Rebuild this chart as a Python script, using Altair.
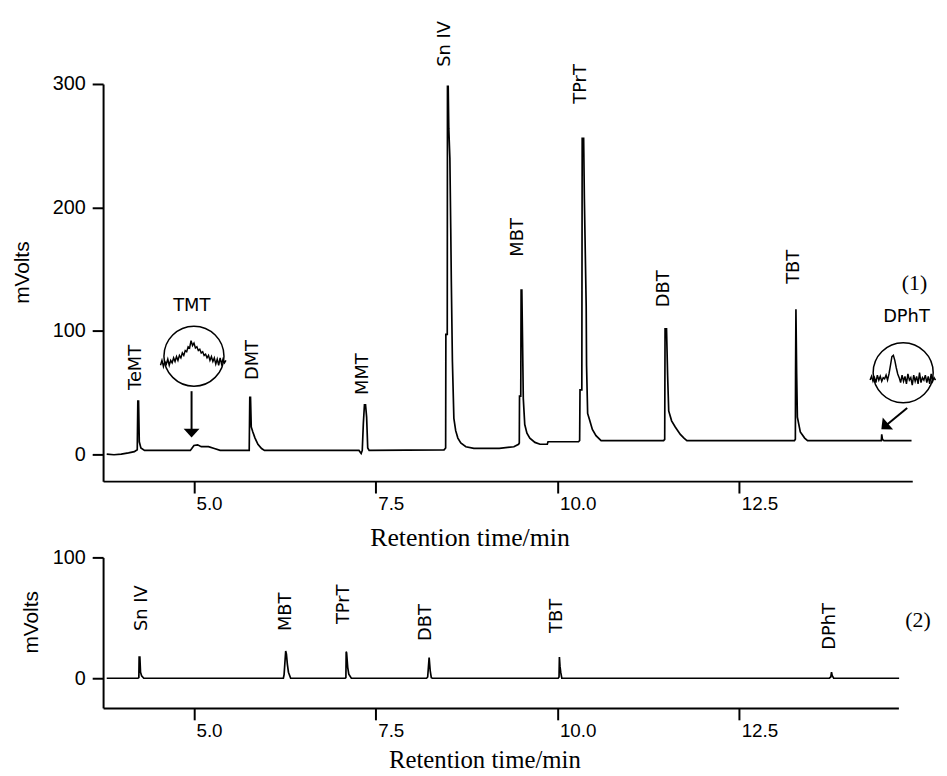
import altair as alt
import pandas as pd

# ---------------- Chromatogram (1): retention time (min) / signal (mV)
top_t = [3.80, 3.90, 4.00, 4.10, 4.18, 4.22, 4.228, 4.238, 4.248, 4.27, 4.32,
         4.95, 4.97, 5.00, 5.05, 5.10, 5.20, 5.28, 5.36,
         5.76, 5.768, 5.778, 5.788, 5.81, 5.84, 5.88, 5.93, 5.97,
         7.27, 7.30, 7.315, 7.33, 7.345, 7.36, 7.375, 7.39, 7.41,
         8.44, 8.462, 8.465, 8.484, 8.487, 8.497, 8.505, 8.52, 8.532, 8.54, 8.555,
         8.575, 8.60, 8.63, 8.67, 8.74, 8.85, 9.20, 9.40,
         9.465, 9.475, 9.478, 9.495, 9.50, 9.51, 9.52, 9.53, 9.55, 9.58, 9.62,
         9.69, 9.76, 9.86, 9.87,
         10.29, 10.305, 10.31, 10.335, 10.34, 10.36, 10.37, 10.395, 10.40, 10.415,
         10.44, 10.48, 10.53, 10.60,
         11.46, 11.475, 11.48, 11.50, 11.515, 11.53, 11.57, 11.62, 11.69, 11.74, 11.78,
         13.26, 13.272, 13.275, 13.28, 13.29, 13.30, 13.34, 13.40, 13.44,
         14.44, 14.455, 14.46, 14.47, 14.49, 14.87]
top_v = [0, -0.5, 0, 1, 2, 3.5, 43, 43, 10, 5, 3,
         3, 4.5, 7, 7.5, 6, 6, 4.5, 3,
         3, 46, 46, 22, 18, 13, 8, 4.5, 3,
         3, 0.5, 3, 25, 40, 40, 30, 5, 3,
         3.5, 5, 97, 97, 298, 298, 264, 240, 183, 140, 75,
         29, 19, 13, 9, 6, 4.6, 4.6, 6,
         8, 9, 47, 47, 133, 133, 90, 45, 24, 17, 13,
         9.5, 8, 8, 10,
         10, 11, 52, 52, 256, 256, 207, 120, 72, 33,
         28, 20, 15, 11,
         11, 12, 101.5, 101.5, 64, 35, 27, 22, 16, 13, 11,
         11, 12, 65, 117.5, 65, 30, 18, 13, 11,
         11, 11, 16, 12, 11, 11]

# magnified insets (TMT and DPhT)
tmt_t = [4.54, 4.56, 4.58, 4.60, 4.62, 4.64, 4.66, 4.68, 4.70, 4.72, 4.74, 4.76,
         4.78, 4.80, 4.82, 4.84, 4.86, 4.88, 4.90, 4.92, 4.94, 4.96, 4.98, 5.00,
         5.02, 5.04, 5.06, 5.08, 5.10, 5.12, 5.14, 5.16, 5.18, 5.20, 5.22, 5.24,
         5.26, 5.28, 5.30, 5.32, 5.34, 5.36, 5.38, 5.40, 5.42, 5.44]
tmt_v = [72, 76, 71, 75, 73, 77, 72, 76, 74, 78, 75, 79, 76, 80, 78, 82, 80, 84,
         83, 87, 86, 92, 88, 90, 86, 87, 84, 85, 82, 83, 80, 81, 78, 80, 76, 79,
         75, 78, 73, 77, 72, 78, 73, 77, 74, 76]
dpht_t = [14.30, 14.32, 14.34, 14.36, 14.38, 14.40, 14.42, 14.44, 14.46, 14.48,
          14.50, 14.52, 14.54, 14.56, 14.58, 14.60, 14.62, 14.64, 14.66, 14.68,
          14.70, 14.72, 14.74, 14.76, 14.78, 14.80, 14.82, 14.84, 14.86, 14.88,
          14.90, 14.92, 14.94, 14.96, 14.98, 15.00, 15.02, 15.04, 15.06, 15.08,
          15.10, 15.12, 15.14, 15.16, 15.18, 15.20]
dpht_v = [60, 63, 59, 62, 58, 64, 60, 63, 59, 62,
          61, 64, 60, 65, 72, 79, 80, 76, 70, 65,
          62, 58, 64, 59, 63, 57, 65, 60, 62, 56,
          64, 59, 63, 57, 66, 58, 62, 60, 64, 58,
          63, 57, 65, 59, 62, 60]
circle_t = [5.00, 14.755]
circle_v = [79.4, 65.9]

top_names = ["TeMT", "DMT", "MMT", "Sn IV", "MBT", "TPrT", "DBT", "TBT"]
top_lbl_t = [4.21, 5.81, 7.32, 8.45, 9.46, 10.33, 11.46, 13.26]
top_lbl_v = [52, 60, 48, 314, 160, 284, 119, 138]

# ---------------- Chromatogram (2)
bot_t = [3.80, 4.23, 4.242, 4.246, 4.256, 4.265, 4.28, 4.31,
         6.23, 6.24, 6.25, 6.262, 6.272, 6.285, 6.30, 6.33,
         7.08, 7.09, 7.094, 7.10, 7.115, 7.13, 7.165,
         8.20, 8.215, 8.235, 8.25, 8.265, 8.28,
         10.01, 10.022, 10.027, 10.035, 10.045, 10.06,
         13.74, 13.76, 13.77, 13.78, 13.80, 14.70]
bot_v = [0, 0, 0.5, 17.5, 17.5, 5, 2, 0,
         0, 3, 12, 22.5, 20, 11.5, 5, 0,
         0, 0.5, 22, 21, 9, 3.3, 0,
         0, 1, 17, 6, 0.5, 0,
         0, 1, 17.5, 10, 5, 0,
         0, 1, 5, 2, 0, 0]
bot_names = ["Sn IV", "MBT", "TPrT", "DBT", "TBT", "DPhT"]
bot_lbl_t = [4.28, 6.27, 7.07, 8.19, 9.99, 13.75]
bot_lbl_v = [39, 39, 44.8, 30.9, 37.5, 23.5]

AX = dict(domainColor="black", domainWidth=2, tickColor="black", tickWidth=2,
          labelColor="black", grid=False, labelFont="Liberation Sans")
SERIF = "Liberation Serif"
LBL_FONT = "DejaVu Sans"
ARROW = "M-1,-0.55L1,-0.55L0,0.55Z"


def panel(tdom, vdom, w, h, yvals, x_title_x, x_title_y, x_title_size,
          y_title_x, y_title_y, traces, vlabels, hlabels, circles, arrows,
          heads, tag):
    x = alt.X("t:Q", scale=alt.Scale(domain=tdom, nice=False, zero=False),
              axis=alt.Axis(values=[5, 7.5, 10, 12.5], format=".1f",
                            title="Retention time/min", tickSize=12,
                            labelAlign="left", labelOffset=2, labelPadding=2,
                            labelFontSize=19, titleFont=SERIF,
                            titleFontSize=x_title_size,
                            titleFontWeight="normal", titleX=x_title_x,
                            titleY=x_title_y, titleAlign="center",
                            titleBaseline="top", **AX))
    y = alt.Y("v:Q", scale=alt.Scale(domain=vdom, nice=False, zero=False),
              axis=alt.Axis(values=yvals, title="mVolts", tickSize=11,
                            labelPadding=7, labelFontSize=20,
                            titleFont="Liberation Sans", titleFontSize=21,
                            titleFontWeight="normal", titleX=y_title_x,
                            titleY=y_title_y, titleBaseline="bottom",
                            titleAlign="center", **AX))
    layers = []
    for i, (tt, vv) in enumerate(traces):
        df = pd.DataFrame({"t": tt, "v": vv})
        layers.append(alt.Chart(df).mark_line(color="black",
                                              strokeWidth=1.7 if i == 0 else 1.5)
                      .encode(x=x, y=y))
    if circles is not None:
        layers.append(alt.Chart(pd.DataFrame({"t": circles[0], "v": circles[1]}))
                      .mark_point(shape="circle", size=3675, filled=False,
                                  stroke="black", strokeWidth=1.5, opacity=1)
                      .encode(x=x, y=y))
    if arrows is not None:
        layers.append(alt.Chart(pd.DataFrame(arrows))
                      .mark_rule(color="black", strokeWidth=2)
                      .encode(x=x, y=y, x2="t2:Q", y2="v2:Q"))
        layers.append(alt.Chart(pd.DataFrame(heads))
                      .mark_point(shape=ARROW, size=256, filled=True,
                                  color="black", opacity=1)
                      .encode(x=x, y=y, angle=alt.Angle("a:Q", scale=None)))
    layers.append(alt.Chart(pd.DataFrame(vlabels))
                  .mark_text(angle=270, align="left", baseline="middle",
                             font=LBL_FONT, fontSize=18, color="black")
                  .encode(x=x, y=y, text="name:N"))
    if hlabels is not None:
        layers.append(alt.Chart(pd.DataFrame(hlabels))
                      .mark_text(baseline="middle", font=LBL_FONT, fontSize=18,
                                 color="black")
                      .encode(x=x, y=y, text="name:N"))
    layers.append(alt.Chart(pd.DataFrame(tag))
                  .mark_text(baseline="middle", align="center", font=SERIF,
                             fontSize=22, color="black")
                  .encode(x=x, y=y, text="name:N"))
    return alt.layer(*layers).properties(width=w, height=h)


top = panel(
    [3.75, 14.88], [-21.9, 300], 817, 401, [0, 100, 200, 300], 370, 44, 26,
    -71, 190,
    [(top_t, top_v), (tmt_t, tmt_v), (dpht_t, dpht_v)],
    {"t": top_lbl_t, "v": top_lbl_v, "name": top_names},
    {"t": [4.97, 14.80], "v": [120, 111], "name": ["TMT", "DPhT"]},
    (circle_t, circle_v),
    {"t": [4.967, 14.81], "v": [51, 37.4], "t2": [4.967, 14.53], "v2": [20, 23.8]},
    {"t": [4.967, 14.50], "v": [17, 22.5], "a": [0, 49]},
    {"t": [14.91], "v": [138.5], "name": ["(1)"]},
)

bottom = panel(
    [3.75, 14.69], [-24.6, 100], 803, 152, [0, 100], 385, 40, 25, -62, 65,
    [(bot_t, bot_v)],
    {"t": bot_lbl_t, "v": bot_lbl_v, "name": bot_names},
    None, None, None, None,
    {"t": [14.96], "v": [48.4], "name": ["(2)"]},
)

chart = (alt.vconcat(top, bottom, spacing=77, bounds="flush")
         .properties(padding={"left": 4, "top": 9, "right": 0, "bottom": 0},
                     background="white")
         .configure_view(stroke=None))

chart.save("out.html", embed_options={"renderer": "svg", "actions": False})
